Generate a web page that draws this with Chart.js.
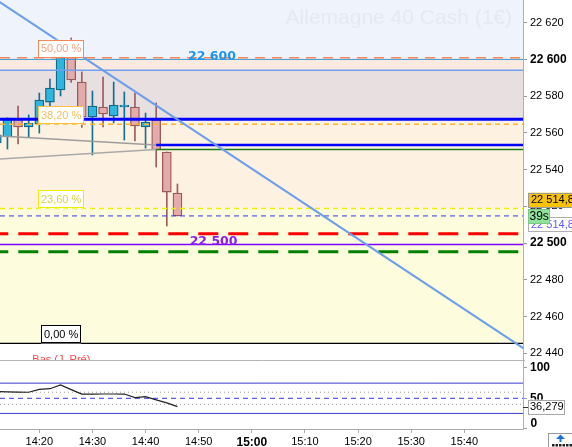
<!DOCTYPE html>
<html>
<head>
<meta charset="utf-8">
<script src="https://cdn.jsdelivr.net/npm/chart.js@4.4.1/dist/chart.umd.min.js"></script>
<style>
  html, body { margin: 0; padding: 0; background: #fff; }
  #wrap { position: relative; width: 572px; height: 447px; overflow: hidden; }
  canvas { position: absolute; left: 0; }
  #main { top: 0; }
  #osc { top: 360px; }
</style>
</head>
<body>
<div id="wrap">
  <canvas id="main" width="572" height="360"></canvas>
  <canvas id="osc" width="572" height="87"></canvas>
</div>
<script>
// bougies 2 min, temps en minutes après 14:00
const times  = [12, 14, 16, 18, 20, 22, 24, 26, 28, 30, 32, 34, 36, 38, 40, 42, 44, 46];
const opens  = [22554.5, 22557.8, 22567.6, 22563.2, 22564.8, 22576.8, 22583.4, 22601.3, 22587.7, 22568.7, 22574.1, 22569.2, 22574.2, 22574.1, 22563.2, 22567.0, 22549.6, 22527.3];
const highs  = [22560.0, 22568.2, 22574.6, 22569.8, 22581.7, 22589.3, 22603.0, 22611.7, 22593.2, 22582.8, 22590.4, 22587.7, 22582.3, 22581.7, 22570.8, 22576.3, 22549.6, 22532.2];
const lows   = [22552.0, 22551.2, 22554.0, 22557.8, 22559.9, 22570.8, 22580.1, 22587.5, 22563.0, 22548.0, 22563.2, 22565.4, 22556.1, 22555.6, 22551.7, 22541.4, 22509.3, 22514.8];
const closes = [22558.9, 22568.1, 22563.2, 22565.4, 22577.9, 22584.4, 22601.3, 22588.8, 22568.7, 22574.6, 22570.3, 22575.2, 22575.2, 22563.8, 22565.9, 22550.7, 22527.8, 22514.8];

// oscillateur (0-100)
const oscValues = [61, 60.6, 60.3, 60, 64.6, 65.8, 72, 64.3, 56.8, 57, 57.1, 57.1, 57, 51, 52.6, 47.5, 42.5, 36.279];
const oscBands = [75, 25];
const oscMid = 50;
const oscDots = [60, 40];

// niveaux
const fibLevels = [22600.9, 22564.7, 22518.9, 22445.4];
const fibLabels = ['50,00 %', '38,20 %', '23,60 %', '0,00 %'];
const bandLevels = [22600.9, 22594.1, 22567.5, 22518.9, 22445.4];
const level22600 = 22600.0;
const level22594 = 22594.1;
const resistBlue = 22567.5;
const supportBlue = 22553.4;
const supportGreen = 22551.0;
const lastPrice = 22514.8;
const stopRed = 22505.1;
const level22500 = 22499.2;
const targetGreen = 22495.3;
const greyA = [{x: 12.6, y: 22558.3}, {x: 42, y: 22553.4}];
const greyB = [{x: 12.6, y: 22545.8}, {x: 42, y: 22551.0}];
const trendLine = [{x: 10, y: 22636.1}, {x: 112, y: 22441.1}];

const priceTicks = [22440, 22460, 22480, 22500, 22520, 22540, 22560, 22580, 22600, 22620];
const boldPriceTicks = [22600, 22500];
const timeTicks = [20, 30, 40, 50, 60, 70, 80, 90, 100];
const oscTicks = [0, 50, 100];
const title = 'Allemagne 40 Cash (1€)';
const countdown = '39s';

const X_MIN = 12.6, X_MAX = 111.05;
const Y_MIN = 22436.36, Y_MAX = 22632.36;

Chart.defaults.font.family = "'Liberation Sans', Arial, sans-serif";
Chart.defaults.font.size = 11;
Chart.defaults.color = '#000';
Chart.defaults.animation = false;
Chart.defaults.plugins.legend.display = false;
Chart.defaults.plugins.tooltip.enabled = false;

function fmtPrice(v, dec) {
  const parts = v.toFixed(dec || 0).split('.');
  return parts[0].replace(/\B(?=(\d{3})+(?!\d))/g, ' ') + (parts[1] ? ',' + parts[1] : '');
}
function fmtTime(v) {
  const h = 14 + Math.floor(v / 60), m = v % 60;
  return h + ':' + (m < 10 ? '0' + m : m);
}

const isUp = closes.map((c, i) => c >= opens[i]);

function hline(v, color, width, dash, from, offset) {
  return {
    type: 'line',
    data: [{x: from === undefined ? X_MIN : from, y: v}, {x: X_MAX + 1, y: v}],
    borderColor: color, borderWidth: width, borderDash: dash || [], borderDashOffset: offset || 0,
    pointRadius: 0, fill: false, tension: 0, order: 2
  };
}

function box(ctx, x, y, w, h, fill, stroke) {
  ctx.fillStyle = fill;
  ctx.fillRect(x, y, w, h);
  ctx.strokeStyle = stroke;
  ctx.lineWidth = 1;
  ctx.strokeRect(Math.round(x) + 0.5, Math.round(y) + 0.5, Math.round(w) - 1, Math.round(h) - 1);
}

const mainDeco = {
  id: 'mainDeco',
  beforeDatasetsDraw(chart) {
    const {ctx, chartArea: a, scales: {y}} = chart;
    ctx.save();
    const bandColors = ['#eff3fb', '#fce9e0', '#e7dfe0', '#fdf2e1', '#fdfcdd'];
    const edges = [Y_MAX].concat(bandLevels);
    bandColors.forEach((c, i) => {
      const y0 = y.getPixelForValue(edges[i]), y1 = y.getPixelForValue(edges[i + 1]);
      ctx.fillStyle = c;
      ctx.fillRect(a.left, y0, a.width, y1 - y0);
    });
    ctx.font = '21px "Liberation Sans", Arial, sans-serif';
    ctx.fillStyle = '#e6e9f1';
    ctx.textAlign = 'right';
    ctx.textBaseline = 'alphabetic';
    ctx.fillText(title, 512, 23.5);
    ctx.restore();
  },
  afterDatasetsDraw(chart) {
    const {ctx, scales: {x, y}} = chart;
    ctx.save();
    // étiquettes Fibonacci
    const fibStroke = ['#f2875a', '#ffc03c', '#eeee00', '#000'];
    const fibText = ['#f4a488', '#f0c060', '#d6d444', '#000'];
    ctx.font = '11px "Liberation Sans", Arial, sans-serif';
    ctx.textAlign = 'center';
    ctx.textBaseline = 'middle';
    const cx = x.getPixelForValue(24.1);
    fibLevels.forEach((lv, i) => {
      const yb = y.getPixelForValue(lv);
      const w = Math.round(ctx.measureText(fibLabels[i]).width + 6);
      box(ctx, cx - w / 2, yb - 18, w, 18, '#fff', fibStroke[i]);
      ctx.fillStyle = fibText[i];
      ctx.fillText(fibLabels[i], cx, yb - 8.5);
    });
    // niveaux ronds
    ctx.font = 'bold 12.5px "DejaVu Sans", Verdana, sans-serif';
    ctx.fillStyle = '#1e96f0';
    ctx.fillText(fmtPrice(22600), x.getPixelForValue(52.5), y.getPixelForValue(level22600) - 2.5);
    ctx.fillStyle = '#8a1cf5';
    ctx.fillText(fmtPrice(22500), x.getPixelForValue(52.8), y.getPixelForValue(level22500) - 2.5);
    // bas de la veille (hors champ)
    ctx.font = '11px "Liberation Sans", Arial, sans-serif';
    ctx.textAlign = 'left';
    ctx.textBaseline = 'alphabetic';
    ctx.fillStyle = '#ff4848';
    ctx.fillText('Bas (J. Pré)', 32.3, 363);
    ctx.restore();
  },
  afterDraw(chart) {
    const {ctx, scales: {y}} = chart;
    ctx.save();
    const yp = y.getPixelForValue(lastPrice);
    ctx.font = '11px "Liberation Sans", Arial, sans-serif';
    ctx.textAlign = 'left';
    ctx.textBaseline = 'middle';
    box(ctx, 528, yp - 23.2, 50, 14.5, '#f7c20a', '#9a9a9a');
    ctx.fillStyle = '#000';
    ctx.fillText(fmtPrice(lastPrice, 1), 531, yp - 15.8);
    box(ctx, 528, yp + 0.8, 50, 15, '#fff', '#b0b0b0');
    ctx.fillStyle = '#5a5af0';
    ctx.fillText(fmtPrice(lastPrice, 1), 531, yp + 8.6);
    box(ctx, 528, yp - 7, 21.5, 15, '#90e39a', '#78c884');
    ctx.fillStyle = '#000';
    ctx.font = '12px "Liberation Sans", Arial, sans-serif';
    ctx.fillText(countdown, 529.5, yp + 0.7);
    ctx.restore();
  }
};

new Chart(document.getElementById('main'), {
  type: 'bar',
  data: {
    datasets: [
      {
        type: 'bar', label: 'mèches',
        data: times.map((t, i) => ({x: t, y: [lows[i], highs[i]]})),
        backgroundColor: isUp.map(u => u ? '#15708f' : '#9c5d5d'),
        barThickness: 1, grouped: false, order: 20
      },
      {
        type: 'bar', label: 'corps',
        data: times.map((t, i) => ({x: t, y: [opens[i], closes[i]]})),
        backgroundColor: isUp.map(u => u ? '#2fb5de' : '#e3abab'),
        borderColor: isUp.map(u => u ? '#106a8a' : '#9a5a5a'),
        borderWidth: 1.3, borderSkipped: false,
        barThickness: 9, grouped: false, order: 10
      },
      {type: 'line', data: greyA, borderColor: '#9c9c9c', borderWidth: 1.5, pointRadius: 0, tension: 0, order: 3},
      {type: 'line', data: greyB, borderColor: '#a9a9a9', borderWidth: 1.5, pointRadius: 0, tension: 0, order: 3},
      hline(fibLevels[0], '#f2875a', 1.5, [10, 7]),
      hline(level22600, '#3a9be0', 1),
      hline(level22594, '#6ea0f2', 1.5),
      hline(resistBlue, '#0000ff', 3),
      hline(fibLevels[1], '#ffb22a', 1.5, [5, 4]),
      hline(supportBlue, '#0000ff', 2.5, [], 42),
      hline(supportGreen, '#1a7a1a', 1.5, [], 42),
      hline(fibLevels[2], '#f0f000', 1.5, [5, 4]),
      hline(lastPrice, '#3434e6', 1, [5, 4]),
      hline(stopRed, '#ff0000', 3, [20, 10], undefined, 11.7),
      hline(level22500, '#8000ff', 1.5),
      hline(targetGreen, '#008000', 3, [20, 10], undefined, 11.7),
      hline(fibLevels[3], '#000', 1.2),
      {type: 'line', data: trendLine, borderColor: '#6d9eeb', borderWidth: 2, pointRadius: 0, tension: 0, order: 1}
    ]
  },
  options: {
    responsive: false,
    devicePixelRatio: 1,
    layout: {padding: 0},
    scales: {
      x: {type: 'linear', min: X_MIN, max: X_MAX, display: false, offset: false, grid: {offset: false}},
      y: {
        position: 'right', min: Y_MIN, max: Y_MAX,
        afterBuildTicks: s => { s.ticks = priceTicks.map(v => ({value: v})); },
        afterFit: s => { s.width = 49; s.paddingTop = 0; s.paddingBottom = 0; },
        ticks: {
          padding: 3, color: '#000',
          callback: v => fmtPrice(v),
          font: c => (c.tick && boldPriceTicks.includes(c.tick.value)) ? {size: 12, weight: 'bold'} : {size: 11}
        },
        grid: {drawOnChartArea: false, tickLength: 4, color: '#999'},
        border: {display: true, color: '#b0b0b0'}
      }
    }
  },
  plugins: [mainDeco]
});

function oscLine(v, color, dash) {
  return {
    data: [{x: X_MIN, y: v}, {x: X_MAX + 1, y: v}],
    borderColor: color, borderWidth: 1, borderDash: dash || [], pointRadius: 0, tension: 0, order: 2
  };
}

const oscDeco = {
  id: 'oscDeco',
  afterDraw(chart) {
    const {ctx, chartArea: a, scales: {y}} = chart;
    ctx.save();
    ctx.strokeStyle = '#b4b4b4';
    ctx.lineWidth = 1;
    ctx.beginPath();
    ctx.moveTo(0, 0.5);
    ctx.lineTo(a.right + 2, 0.5);
    ctx.stroke();
    // zéro
    ctx.font = 'bold 12px "Liberation Sans", Arial, sans-serif';
    ctx.fillStyle = '#000';
    ctx.textAlign = 'left';
    ctx.textBaseline = 'middle';
    ctx.fillText('0', 530.5, 63.5);
    // dernière valeur
    const last = oscValues[oscValues.length - 1];
    const yp = y.getPixelForValue(last);
    ctx.strokeStyle = '#333';
    ctx.beginPath();
    ctx.moveTo(a.right, Math.round(yp) + 0.5);
    ctx.lineTo(a.right + 5, Math.round(yp) + 0.5);
    ctx.stroke();
    box(ctx, 528, yp - 7, 36.5, 14.5, '#fff', '#a8a8a8');
    ctx.font = '11px "Liberation Sans", Arial, sans-serif';
    ctx.fillStyle = '#000';
    ctx.fillText(last.toFixed(3).replace('.', ','), 530, yp + 0.3);
    // bouton
    box(ctx, 548, 73, 28, 16, '#fff', '#999');
    ctx.fillStyle = '#1a6fd8';
    ctx.beginPath();
    ctx.moveTo(560.5, 74.5); ctx.lineTo(556, 79); ctx.lineTo(565, 79); ctx.closePath();
    ctx.fill();
    ctx.fillRect(559.5, 79, 2, 3);
    ctx.fillStyle = '#222';
    for (let i = 0; i < 6; i++) ctx.fillRect(552 + i * 3.5, 84, 2.5, 2.5);
    ctx.restore();
  }
};

new Chart(document.getElementById('osc'), {
  type: 'line',
  data: {
    datasets: [
      {data: times.map((t, i) => ({x: t, y: oscValues[i]})), borderColor: '#222', borderWidth: 1.2, pointRadius: 0, tension: 0, order: 0},
      oscLine(oscBands[0], '#3a3ad2'),
      oscLine(oscBands[1], '#3a3ad2'),
      oscLine(oscMid, '#3434ea', [5, 4]),
      oscLine(oscDots[0], '#9a9a9a', [1, 3]),
      oscLine(oscDots[1], '#9a9a9a', [1, 3])
    ]
  },
  options: {
    responsive: false,
    devicePixelRatio: 1,
    layout: {padding: 0},
    scales: {
      x: {
        type: 'linear', min: X_MIN, max: X_MAX, offset: false,
        afterBuildTicks: s => { s.ticks = timeTicks.map(v => ({value: v})); },
        afterFit: s => { s.height = 18; s.paddingLeft = 0; s.paddingRight = 0; },
        ticks: {
          autoSkip: false, maxRotation: 0, padding: 2, color: '#000',
          callback: v => fmtTime(v),
          font: c => (c.tick && c.tick.value === 60) ? {size: 12, weight: 'bold'} : {size: 11}
        },
        grid: {drawOnChartArea: false, tickLength: 4, color: '#aaa'},
        border: {display: true, color: '#aaa'}
      },
      y: {
        position: 'right', min: -0.7, max: 113.2,
        afterBuildTicks: s => { s.ticks = oscTicks.map(v => ({value: v})); },
        afterFit: s => { s.width = 49; s.paddingTop = 0; s.paddingBottom = 0; },
        ticks: {
          padding: 3, color: '#000',
          callback: v => v === 0 ? '' : String(v),
          font: {size: 12, weight: 'bold'}
        },
        grid: {drawOnChartArea: false, tickLength: 4, color: '#999'},
        border: {display: true, color: '#b0b0b0'}
      }
    }
  },
  plugins: [oscDeco]
});
</script>
</body>
</html>
